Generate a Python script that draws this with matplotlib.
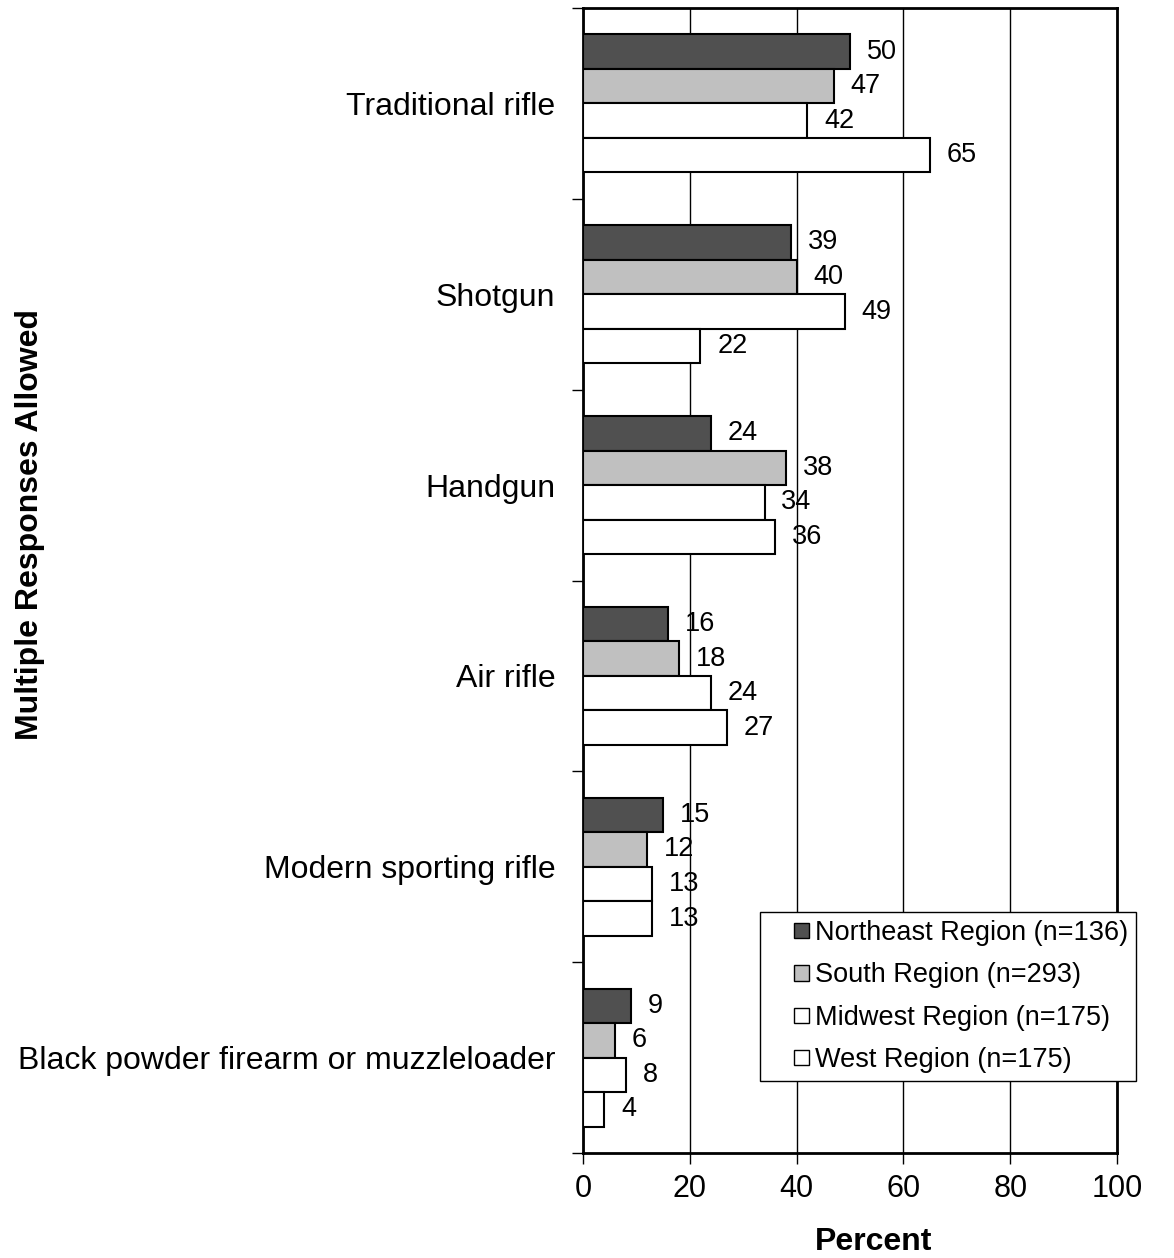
import matplotlib
matplotlib.use("Agg")
import matplotlib.pyplot as plt
from matplotlib.patches import Rectangle
from matplotlib.legend_handler import HandlerPatch
import numpy as np

plt.rcParams['font.family'] = ['Liberation Sans', 'DejaVu Sans']

categories = ["Traditional rifle", "Shotgun", "Handgun", "Air rifle",
              "Modern sporting rifle", "Black powder firearm or muzzleloader"]
series_names = ["Northeast Region (n=136)", "South Region (n=293)",
                "Midwest Region (n=175)", "West Region (n=175)"]
northeast = [50, 39, 24, 16, 15, 9]
south = [47, 40, 38, 18, 12, 6]
midwest = [42, 49, 34, 24, 13, 8]
west = [65, 22, 36, 27, 13, 4]
xticks = [0, 20, 40, 60, 80, 100]

series = [northeast, south, midwest, west]
colors = ["#505050", "#c0c0c0", "#ffffff", "#ffffff"]

fig = plt.figure(figsize=(11.74, 12.58), dpi=100)
ax = fig.add_axes([583/1174, 1-1153/1258, (1117-583)/1174, (1153-8)/1258])

y = np.arange(len(categories))
h = 0.181
offsets = [-1.5*h, -0.5*h, 0.5*h, 1.5*h]

handles = []
for vals, name, col, off in zip(series, series_names, colors, offsets):
    bars = ax.barh(y + off, vals, height=h, color=col, edgecolor="black",
                   linewidth=1.5, label=name, zorder=3)
    handles.append(bars.patches[0])
    for b, v in zip(bars, vals):
        ax.annotate(f"{v}", xy=(b.get_width(), b.get_y() + b.get_height()/2),
                    xytext=(12, 0), textcoords="offset points",
                    ha="left", va="center", fontsize=19.5, zorder=4)

ax.set_xlim(0, 100)
ax.set_ylim(len(categories) - 0.5, -0.5)
ax.set_xticks(xticks)
ax.set_xticklabels([str(t) for t in xticks])
ax.xaxis.grid(True, color="black", linewidth=1.0, zorder=0)
ax.set_axisbelow(True)

ax.set_yticks(y)
ax.set_yticklabels(categories, fontsize=23)
ax.set_yticks(np.arange(len(categories) + 1) - 0.5, minor=True)
ax.tick_params(axis="y", which="major", length=0, pad=20)
ax.tick_params(axis="y", which="minor", length=8, width=1, direction="out")
ax.tick_params(axis="x", which="major", length=8, width=1, direction="out",
               labelsize=22, pad=7)

for s in ax.spines.values():
    s.set_linewidth(2)
    s.set_color("black")

fig.text(874/1174, 1-1250/1258, "Percent", fontsize=23, fontweight="bold",
         ha="center", va="baseline")
fig.text(30/1174, 1-525/1258, "Multiple Responses Allowed", rotation=90,
         fontsize=23, fontweight="bold", ha="center", va="center")


def small_square(legend, orig_handle, xdescent, ydescent, width, height, fontsize):
    s = 11.0
    return Rectangle((-xdescent + width - s, -ydescent + (height - s) / 2), s, s)


leg = ax.legend(handles=handles, labels=series_names,
                loc="upper left", bbox_to_anchor=(760/1174, 1-912/1258),
                bbox_transform=fig.transFigure, borderaxespad=0,
                fontsize=19.5, frameon=True, fancybox=False, framealpha=1,
                edgecolor="black", handlelength=1.52, handleheight=0.7,
                handletextpad=0.2, labelspacing=0.6, borderpad=0.3,
                handler_map={Rectangle: HandlerPatch(patch_func=small_square)})
for p in leg.get_patches():
    p.set_linewidth(1.0)
leg.get_frame().set_linewidth(1.0)

fig.savefig("out.png", dpi=100)
